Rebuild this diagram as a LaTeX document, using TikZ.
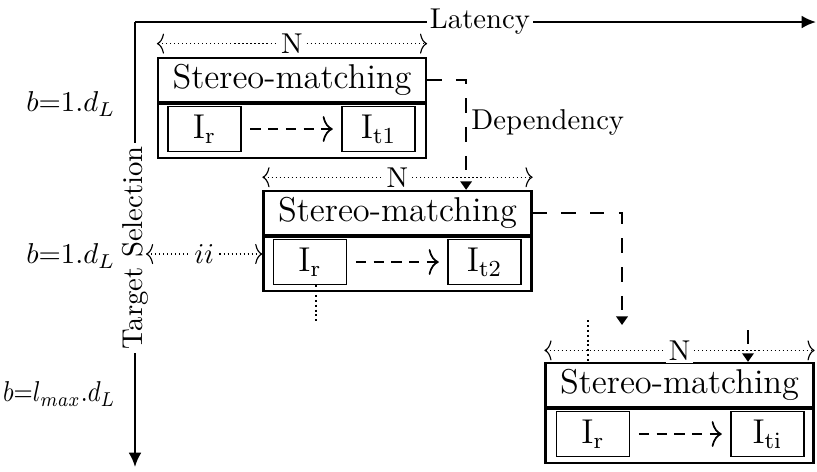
\documentclass[tikz,border=0pt]{standalone}
\usetikzlibrary{arrows.meta,positioning}
\begin{document}
\begin{tikzpicture}[x=0.3484pt,y=-0.3484pt,
 axis/.style={line width=0.8pt,-{Latex[length=5pt,width=4.5pt]}},
 lbl/.style={fill=white,inner sep=1pt},
 title/.style={draw,line width=0.8pt,minimum width=268*0.3484pt,minimum height=44*0.3484pt,inner sep=0pt,font=\large},
 body/.style={draw,line width=0.8pt,minimum width=268*0.3484pt,minimum height=54*0.3484pt,inner sep=0pt,anchor=north},
 inbox/.style={draw,line width=0.45pt,minimum width=73*0.3484pt,minimum height=45*0.3484pt,inner sep=0pt,font=\large},
 flow/.style={semithick,dash pattern=on 3.6pt off 2.6pt,-{Computer Modern Rightarrow[length=3.5pt,width=9pt]},shorten <=3pt,shorten >=3pt},
 narrow/.style={densely dotted,{Computer Modern Rightarrow[length=2.5pt,width=7pt]}-{Computer Modern Rightarrow[length=2.5pt,width=7pt]}},
 dep/.style={line width=0.7pt,dash pattern=on 5pt off 5pt,-{Triangle[length=3pt,width=4pt]}},
 dotline/.style={densely dotted,line width=0.7pt},
 blabel/.style={anchor=east,inner sep=0pt}
]
\useasboundingbox (0,0) rectangle (817,471);
% axes
\coordinate (O) at (135,22);
\coordinate (XE) at (816,22);
\coordinate (YE) at (135,467);
\draw[axis] (O) -- (XE);
\draw[axis] (O) -- (YE);
\node[lbl] (lat) at (480,22) {Latency};
\node[lbl,rotate=90] (ts) at (135,248) {Target Selection};
% b labels
\node[blabel] (bl1) at (116,104) {$b$=$1.d_L$};
\node[blabel] (bl2) at (116,256) {$b$=$1.d_L$};
\node[blabel] (bl3) at (116,394) {\scalebox{0.86}[1]{$b$=$l_{max}.d_L$}};
% box 1
\node[title] (t1) at (292,80) {Stereo-matching};
\node[body] (m1) at (t1.south) {};
\node[inbox] (r1) at (204.5,129) {$\mathrm{I_r}$};
\node[inbox] (q1) at (378.5,129) {$\mathrm{I_{t1}}$};
\draw[flow] (r1) -- (q1);
\draw[narrow] ([yshift=4.6pt]t1.north west) -- node[lbl]{N} ([yshift=4.6pt]t1.north east);
% box 2
\node[title] (t2) at (397.5,213) {Stereo-matching};
\node[body] (m2) at (t2.south) {};
\node[inbox] (r2) at (310,262) {$\mathrm{I_r}$};
\node[inbox] (q2) at (484.5,262) {$\mathrm{I_{t2}}$};
\draw[flow] (r2) -- (q2);
\draw[narrow] ([yshift=4.4pt]t2.north west) -- node[lbl]{N} ([yshift=4.4pt]t2.north east);
% box 3
\node[title] (t3) at (679.5,385) {Stereo-matching};
\node[body] (m3) at (t3.south) {};
\node[inbox] (r3) at (593,434) {$\mathrm{I_r}$};
\node[inbox] (q3) at (767.5,434) {$\mathrm{I_{ti}}$};
\draw[flow] (r3) -- (q3);
\draw[narrow] ([yshift=4pt]t3.north west) -- node[lbl]{N} ([yshift=4pt]t3.north east);
% ii
\coordinate (i1) at (146,254);
\draw[narrow] (i1) -- node[lbl]{$ii$} (i1 -| m2.west);
% dependencies
\draw[dep] (t1.east) -| ([xshift=23.9pt]t2.north);
\node[anchor=west,inner sep=1pt] (dp) at (468,122) {Dependency};
\coordinate (c2) at (622,325);
\draw[dep] (t2.east) -| (c2);
\coordinate (c3) at (748,330);
\draw[dep] (c3) -- (c3 |- t3.north);
% dotted
\coordinate (e2) at (316,324);
\draw[dotline] (r2.south -| e2) -- (e2);
\coordinate (e3) at (588,320);
\draw[dotline] (e3) -- (e3 |- t3.north);
\end{tikzpicture}
\end{document}
